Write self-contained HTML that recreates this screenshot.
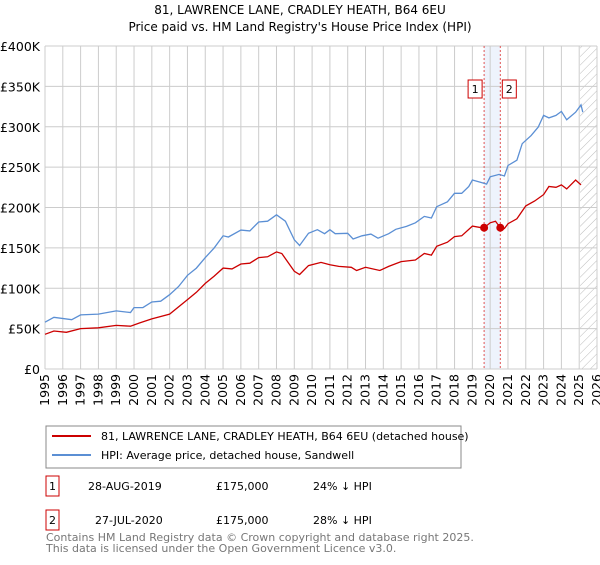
<!DOCTYPE html>
<html><head><meta charset="utf-8"><style>
body{margin:0;background:#fff;font-family:"Liberation Sans","DejaVu Sans",sans-serif;}
svg text{font-family:"DejaVu Sans","Liberation Sans",sans-serif;}
</style></head><body>
<svg id="chart" width="600" height="560" viewBox="0 0 600 560" xmlns="http://www.w3.org/2000/svg">
<defs><pattern id="hatch" width="6" height="6" patternUnits="userSpaceOnUse" patternTransform="rotate(45)"><line x1="0" y1="0" x2="0" y2="6" stroke="#bbb" stroke-width="1"/></pattern></defs>
<text x="300" y="14" text-anchor="middle" font-size="12" fill="#000">81, LAWRENCE LANE, CRADLEY HEATH, B64 6EU</text>
<text x="300" y="31" text-anchor="middle" font-size="12" fill="#000">Price paid vs. HM Land Registry's House Price Index (HPI)</text>
<g id="grid"></g><g id="marks"></g>
<g>
<rect x="46" y="426" width="415" height="42" fill="#fff" stroke="#888"/>
<line x1="52" y1="436" x2="91" y2="436" stroke="#cc0000" stroke-width="2"/>
<text x="101" y="440" font-size="11" fill="#000">81, LAWRENCE LANE, CRADLEY HEATH, B64 6EU (detached house)</text>
<line x1="52" y1="455" x2="91" y2="455" stroke="#5b8fd4" stroke-width="2"/>
<text x="101" y="459" font-size="11" fill="#000">HPI: Average price, detached house, Sandwell</text>
</g>
<g font-size="11" fill="#000">
<rect x="46" y="476" width="13" height="20" fill="#fff" stroke="#cc0000"/><text x="52.5" y="490" text-anchor="middle">1</text>
<text x="88" y="490">28-AUG-2019</text><text x="216" y="490">£175,000</text><text x="313" y="490">24% ↓ HPI</text>
<rect x="46" y="510" width="13" height="20" fill="#fff" stroke="#cc0000"/><text x="52.5" y="524" text-anchor="middle">2</text>
<text x="95" y="524">27-JUL-2020</text><text x="216" y="524">£175,000</text><text x="313" y="524">28% ↓ HPI</text>
</g>
<text x="46" y="541" font-size="11" fill="#777">Contains HM Land Registry data © Crown copyright and database right 2025.</text>
<text x="46" y="552" font-size="11" fill="#777">This data is licensed under the Open Government Licence v3.0.</text>
</svg>
<script>
const yTicks=[0,50,100,150,200,250,300,350,400];
const yTickLabels=["£0","£50K","£100K","£150K","£200K","£250K","£300K","£350K","£400K"];
const xYears=[1995,1996,1997,1998,1999,2000,2001,2002,2003,2004,2005,2006,2007,2008,2009,2010,2011,2012,2013,2014,2015,2016,2017,2018,2019,2020,2021,2022,2023,2024,2025,2026];
const hpiT=[1995,1995.5,1996.5,1997,1998,1999,1999.8,2000,2000.5,2001,2001.5,2002,2002.5,2003,2003.5,2004,2004.5,2005,2005.3,2006,2006.5,2007,2007.5,2008,2008.5,2009,2009.3,2009.8,2010.3,2010.7,2011,2011.3,2012,2012.3,2012.8,2013.3,2013.7,2014.3,2014.7,2015.3,2015.8,2016.3,2016.7,2017,2017.6,2018,2018.4,2018.8,2019,2019.5,2019.8,2020,2020.5,2020.8,2021,2021.5,2021.8,2022.3,2022.7,2023,2023.3,2023.7,2024,2024.3,2024.8,2025.1,2025.2];
const hpiV=[58,64,61,67,68,72,70,76,76,83,84,92,102,116,125,138,150,165,163.5,172,171,182,183,191,183,160,153,168,172.5,167.6,172.5,167.6,168,161,165,167,162,167.6,173,176.6,181,189,187,201,207,217.6,217.6,226,234,231,229,238,241,239,252,258.6,279,289,299.6,314,311,314,319,308.6,318,327,318];
const ppT=[1995,1995.5,1996.2,1997,1998,1999,1999.8,2000.3,2001,2002,2003,2003.5,2004,2004.5,2005,2005.5,2006,2006.5,2007,2007.5,2008,2008.3,2009,2009.3,2009.8,2010.5,2011,2011.5,2012.2,2012.5,2013,2013.8,2014.3,2015,2015.8,2016.3,2016.7,2017,2017.6,2018,2018.4,2019,2019.5,2019.66,2020,2020.3,2020.57,2020.8,2021,2021.5,2022,2022.5,2023,2023.3,2023.7,2024,2024.3,2024.8,2025.1];
const ppV=[43,47,45.5,50,51,54,53,57,62,68,86,95,106,115,125,124,130,131,138,139,145,143,121,117,128,132,129,127,126,122,126,122,127,133,135,143,141,152,157,164,165,177,175,175,181,183,175,174,180,186,202,208,216,226,225,228,223,234,228];
const saleT=[2019.66,2020.57];
const saleV=[175,175];
const saleLabels=["1","2"];
const X=t=>45+(t-1995)*(552/31);
const Y=v=>369-v*(323/400);
const NS="http://www.w3.org/2000/svg";
const grid=document.getElementById('grid'),marks=document.getElementById('marks');
function mk(tag,attrs,parent){const e=document.createElementNS(NS,tag);for(const k in attrs)e.setAttribute(k,attrs[k]);parent.appendChild(e);return e;}
const sh=mk('rect',{x:X(saleT[0]),y:Y(400),width:X(saleT[1])-X(saleT[0]),height:Y(0)-Y(400),fill:'#eef3fc'},grid);


const ht=mk('rect',{x:X(2025.05),y:Y(400),width:X(2026)-X(2025.05),height:Y(0)-Y(400),fill:'url(#hatch)'},grid);


yTicks.forEach((v,i)=>{
 const l=mk('line',{x1:X(1995),x2:X(2026),y1:Y(v),y2:Y(v),stroke:'#ccc'},grid);
 
 
 const t=mk('text',{x:40,y:Y(v)+5,'text-anchor':'end','font-size':'12.5',fill:'#000'},grid);
 t.textContent=yTickLabels[i];
 
 
});
xYears.forEach(yr=>{
 const l=mk('line',{x1:X(yr),x2:X(yr),y1:Y(400),y2:Y(0),stroke:'#ccc'},grid);
 
 
 const t=mk('text',{x:0,y:0,'text-anchor':'end','font-size':'12.5',fill:'#000',transform:`translate(${X(yr)+4},374) rotate(-90)`},grid);
 t.textContent=yr;
 
 
});
saleT.forEach((t,i)=>{
 const l=mk('line',{x1:X(t),x2:X(t),y1:Y(400),y2:Y(0),stroke:'#e05555','stroke-dasharray':'2,2'},grid);
 
 
});
const pts=(T,V)=>T.map((t,i)=>X(t).toFixed(1)+','+Y(V[i]).toFixed(1)).join(' ');
const hl=mk('polyline',{points:pts(hpiT,hpiV),fill:'none',stroke:'#5b8fd4','stroke-width':1.3},marks);


const pl=mk('polyline',{points:pts(ppT,ppV),fill:'none',stroke:'#cc0000','stroke-width':1.3},marks);


saleT.forEach((t,i)=>{
 const c=mk('circle',{cx:X(t),cy:Y(saleV[i]),r:4,fill:'#cc0000'},marks);
 
 
 const b=mk('rect',{x:X(t)+(i?2:-16),y:80,width:14,height:18,fill:'#fff',stroke:'#cc0000'},marks);
 
 
 const tx=mk('text',{x:X(t)+(i?9:-9),y:93,'text-anchor':'middle','font-size':'11',fill:'#000'},marks);
 tx.textContent=saleLabels[i];
 
 
});
</script>
</body></html>
